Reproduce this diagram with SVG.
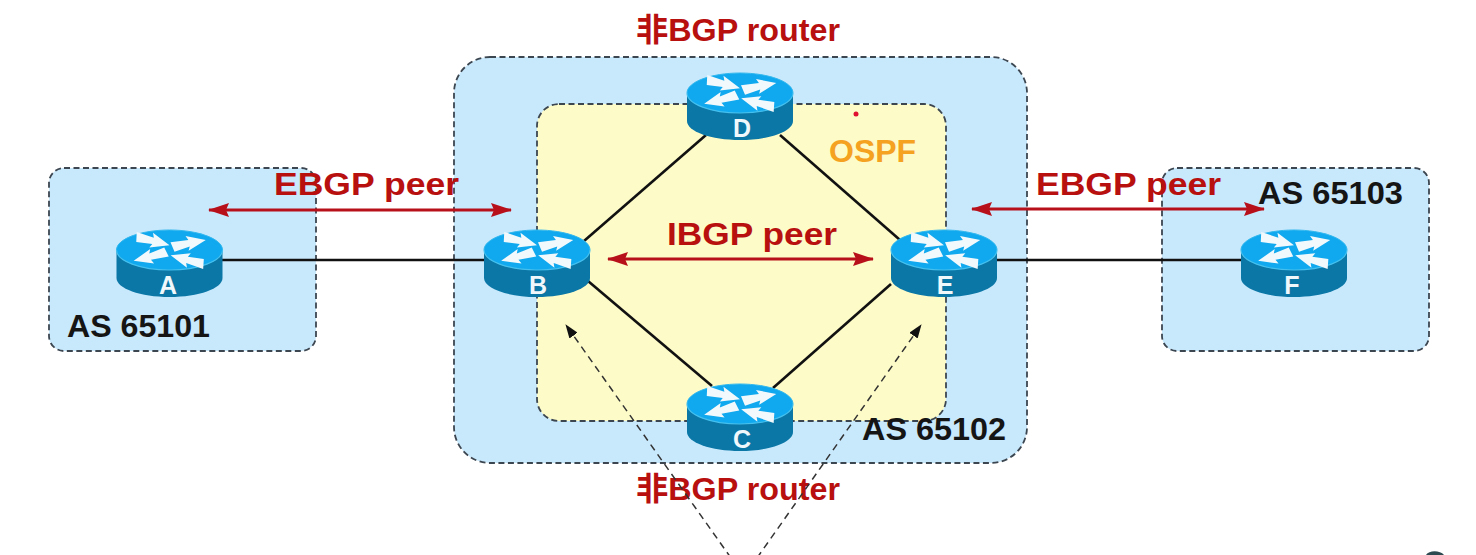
<svg xmlns="http://www.w3.org/2000/svg" width="1476" height="555" viewBox="0 0 1476 555">
<style>
.panel{stroke:#3c4650;stroke-width:1.8;stroke-dasharray:6 3.500}
.blue{fill:#c8e8fc}
.yellow{fill:#fdfbc8}
.link{stroke:#111;stroke-width:2.600;fill:none}
.red{stroke:#b8101a;stroke-width:2.800;fill:none;marker-start:url(#ra);marker-end:url(#ra)}
.dash{stroke:#333;stroke-width:1.500;stroke-dasharray:7 5;fill:none;marker-end:url(#ka)}
text{font-family:"Liberation Sans",Arial,"Noto Sans CJK SC",sans-serif;font-weight:700}
.rt{fill:#b80f0f;font-size:32px}
.bk{fill:#151515;font-size:32px}
.rl{fill:#f0f8fc;font-size:25px;text-anchor:middle}
.ar{fill:#f2f9fc}
</style>
<defs>
<marker id="ra" viewBox="0 0 21 14" refX="20" refY="7" markerUnits="userSpaceOnUse" markerWidth="21" markerHeight="14" orient="auto-start-reverse"><path d="M0 0L21 7L0 14L3 7z" fill="#b8101a"/></marker>
<marker id="ka" viewBox="0 0 14 10" refX="13" refY="5" markerUnits="userSpaceOnUse" markerWidth="14" markerHeight="10" orient="auto"><path d="M0 0L14 5L0 10z" fill="#111"/></marker>
<path id="arw" class="ar" d="M-1 -5L17 -3.500L15 -8L34 0L15 7L17 3L1 5z"/>
<g id="router">
<path d="M-53 0V28C-53 38.500 -29 47 0 47S53 38.500 53 28V0z" fill="#0b77a6"/>
<ellipse cx="0" cy="0" rx="53" ry="20" fill="#10a8ee"/>
<path d="M-53 0C-53 11 -29 20 0 20S53 11 53 0" fill="none" stroke="#45c0ee" stroke-width="1.200"/>
<path d="M-53 0C-53 -11 -29 -20 0 -20S53 -11 53 0" fill="none" stroke="#30b8ee" stroke-width="1"/>
<use href="#arw" transform="translate(-33 -13) rotate(14)"/>
<use href="#arw" transform="translate(3 -3) rotate(-12)"/>
<use href="#arw" transform="translate(-3 2) rotate(165)"/>
<use href="#arw" transform="translate(34 14) rotate(195)"/>
</g>
</defs>
<g id="as65101"><rect class="panel blue" x="49" y="168" width="267" height="183" rx="15"/></g>
<g id="as65103"><rect class="panel blue" x="1162" y="168" width="267" height="183" rx="15"/></g>
<g id="as65102"><rect class="panel blue" x="454" y="57" width="573" height="406" rx="36"/></g>
<g id="ospf"><rect class="panel yellow" x="537" y="104" width="409" height="317" rx="22"/>
<circle cx="856" cy="114" r="2.500" fill="#e01030"/>
<text x="829" y="162" fill="#f4a21f" style="font-size:32px">OSPF</text></g>
<g id="connectors">
<path class="link" d="M222 260H485"/>
<path class="link" d="M997 260H1241"/>
<path class="link" d="M584 241L706 135"/>
<path class="link" d="M588 281L712 386"/>
<path class="link" d="M780 135L900 240"/>
<path class="link" d="M773 388L891 284"/>
<path class="red" d="M209 210H511"/>
<path class="red" d="M608 259H873"/>
<path class="red" d="M972 209H1264"/>
</g>
<g id="node-a"><use href="#router" x="169.500" y="250"/><text class="rl" x="168" y="294">A</text></g>
<g id="node-b"><use href="#router" x="537" y="250"/><text class="rl" x="538" y="294">B</text></g>
<g id="node-e"><use href="#router" x="944" y="250"/><text class="rl" x="945" y="294">E</text></g>
<g id="node-f"><use href="#router" x="1294" y="250"/><text class="rl" x="1292" y="294">F</text></g>
<g id="node-d"><use href="#router" x="740" y="93"/><text class="rl" x="742" y="137">D</text></g>
<g id="node-c"><use href="#router" x="740" y="404"/><text class="rl" x="742" y="448">C</text></g>
<g id="labels">
<text class="rt" x="274" y="195" textLength="185" lengthAdjust="spacingAndGlyphs">EBGP peer</text>
<text class="rt" x="1036" y="195" textLength="185" lengthAdjust="spacingAndGlyphs">EBGP peer</text>
<text class="rt" x="667" y="245" textLength="170" lengthAdjust="spacingAndGlyphs">IBGP peer</text>
<text class="rt" x="636" y="41" textLength="204" lengthAdjust="spacingAndGlyphs">非BGP router</text>
<text class="rt" x="636" y="500" textLength="204" lengthAdjust="spacingAndGlyphs">非BGP router</text>
<text class="bk" x="67" y="337" textLength="143" lengthAdjust="spacingAndGlyphs">AS 65101</text>
<text class="bk" x="862" y="440" textLength="144" lengthAdjust="spacingAndGlyphs">AS 65102</text>
<text class="bk" x="1258" y="204" textLength="145" lengthAdjust="spacingAndGlyphs">AS 65103</text>
</g>
<g id="dashed">
<path class="dash" d="M731 558L566 325"/>
<path class="dash" d="M757 558L921 325"/>
</g>
<path d="M1426 555C1429 550 1440 550 1444 555z" fill="#2d4a50"/>
</svg>
